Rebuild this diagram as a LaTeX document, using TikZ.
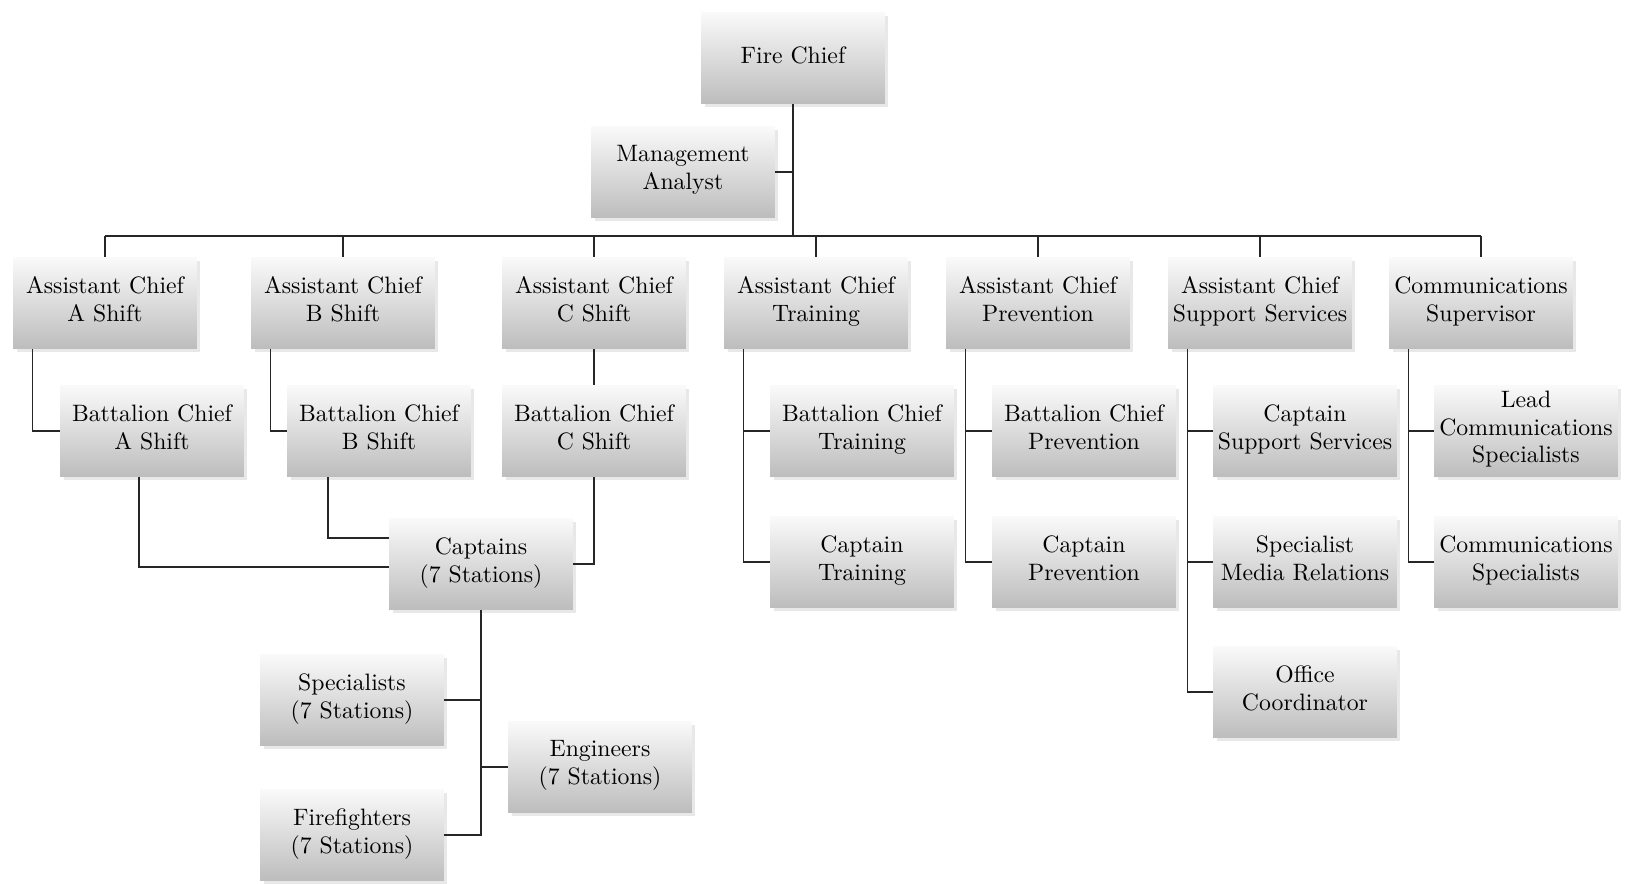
\documentclass[tikz,border=0pt]{standalone}
\usetikzlibrary{calc,shadows}

\begin{document}
\begin{tikzpicture}[x=0.16mm,y=-0.16mm,
    box/.style={minimum width=29.4mm,minimum height=14.6mm,align=center,inner sep=0pt,
        top color=black!2,bottom color=black!26,draw=none,
        drop shadow={shadow xshift=0.55mm,shadow yshift=-0.55mm,opacity=0.18},
        font=\fontsize{10.8}{12.7}\selectfont,
        execute at begin node=\strut,execute at end node=\strut},
    line/.style={line width=0.6pt,black!85}]
    \useasboundingbox (0,0) rectangle (1629,884);
    % top
    \node[box] (fc) at (793,58) {Fire Chief};
    \node[box] (ma) at (683,172) {Management\\Analyst};
    \coordinate (bus) at (0,236);
    % assistant chiefs
    \node[box] (asA) at (105,303) {Assistant Chief\\A Shift};
    \node[box] (asB) at (343,303) {Assistant Chief\\B Shift};
    \node[box] (asC) at (594,303) {Assistant Chief\\C Shift};
    \node[box] (asT) at (816,303) {Assistant Chief\\Training};
    \node[box] (asP) at (1038,303) {Assistant Chief\\Prevention};
    \node[box] (asS) at (1260,303) {Assistant Chief\\Support Services};
    \node[box] (cs) at (1481,303) {Communications\\Supervisor};
    % third row
    \node[box] (bcA) at (152,431) {Battalion Chief\\A Shift};
    \node[box] (bcB) at (379,431) {Battalion Chief\\B Shift};
    \node[box] (bcC) at (594,431) {Battalion Chief\\C Shift};
    \node[box] (bcT) at (862,431) {Battalion Chief\\Training};
    \node[box] (bcP) at (1084,431) {Battalion Chief\\Prevention};
    \node[box] (capS) at (1305,431) {Captain\\Support Services};
    \node[box] (lcs) at (1526,431) {Lead\\Communications\\Specialists};
    % fourth row
    \node[box] (cap) at (481,564) {Captains\\(7 Stations)};
    \node[box] (capT) at (862,562) {Captain\\Training};
    \node[box] (capP) at (1084,562) {Captain\\Prevention};
    \node[box] (smr) at (1305,562) {Specialist\\Media Relations};
    \node[box] (comsp) at (1526,562) {Communications\\Specialists};
    \node[box] (oc) at (1305,692) {Office\\Coordinator};
    % stations
    \node[box] (spec) at (352,700) {Specialists\\(7 Stations)};
    \node[box] (eng) at (600,767) {Engineers\\(7 Stations)};
    \node[box] (ff) at (352,835) {Firefighters\\(7 Stations)};

    \draw[line] (fc) -- (fc |- bus);
    \draw[line] (fc |- ma) -- (ma);
    \draw[line] (asA |- bus) -- (cs |- bus);
    \foreach \n in {asA,asB,asC,asT,asP,asS,cs}
        \draw[line] (\n |- bus) -- (\n);

    \coordinate (tA) at ($(asA.south west)+(20,0)$);
    \coordinate (tB) at ($(asB.south west)+(20,0)$);
    \coordinate (tT) at ($(asT.south west)+(20,0)$);
    \coordinate (tP) at ($(asP.south west)+(20,0)$);
    \coordinate (tS) at ($(asS.south west)+(20,0)$);
    \coordinate (tC) at ($(cs.south west)+(20,0)$);
    \draw[line] (tA) |- (bcA);
    \draw[line] (tB) |- (bcB);
    \draw[line] (asC) -- (bcC);
    \draw[line] (tT) |- (capT);
    \draw[line] (tT |- bcT) -- (bcT);
    \draw[line] (tP) |- (capP);
    \draw[line] (tP |- bcP) -- (bcP);
    \draw[line] (tS) |- (oc);
    \draw[line] (tS |- capS) -- (capS);
    \draw[line] (tS |- smr) -- (smr);
    \draw[line] (tC) |- (comsp);
    \draw[line] (tC |- lcs) -- (lcs);

    \draw[line] ($(bcA.south)+(-13,0)$) |- ($(cap.west)+(0,3)$);
    \draw[line] ($(bcB.south)+(-51,0)$) |- ($(cap.west)+(0,-26)$);
    \draw[line] (bcC) |- (cap);

    \draw[line] (cap) |- (ff);
    \draw[line] (cap |- spec) -- (spec);
    \draw[line] (cap |- eng) -- (eng);
\end{tikzpicture}
\end{document}
